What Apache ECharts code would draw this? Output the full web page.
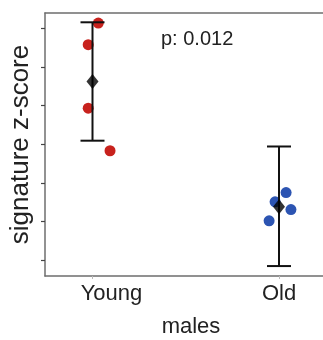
<!DOCTYPE html>
<html>
<head>
<meta charset="utf-8">
<script src="https://cdn.jsdelivr.net/npm/echarts@6/dist/echarts.min.js"></script>
<style>html,body{margin:0;padding:0;background:#fff}#c{width:323px;height:340px}</style>
</head>
<body>
<div id="c"></div>
<script>
// Groups (x positions 1 and 2 on the axis)
var categories = ['Young', 'Old'];
var groupPos = [1, 2];
// Individual points: [x-jittered position, signature z-score (axis units)]
var youngPoints = [[1.031, 6.13], [0.977, 5.57], [0.977, 3.93], [1.094, 2.83]];
var oldPoints = [[2.038, 1.75], [1.979, 1.51], [2.064, 1.31], [1.947, 1.02]];
// Mean and error bar (low, high)
var means = [4.62, 1.38];
var errLow = [3.09, -0.15];
var errHigh = [6.15, 2.94];
var yTicks = [0, 1, 2, 3, 4, 5, 6];
var pText = 'p: 0.012';

var chart = echarts.init(document.getElementById('c'), null, {renderer: 'canvas'});
var font = 'Liberation Sans, Arial, sans-serif';
var axisGray = '#6e6e6e';

var errData = groupPos.map(function (x, i) { return [x, errLow[i], errHigh[i]]; });
var meanData = groupPos.map(function (x, i) { return [x, means[i]]; });

chart.setOption({
  animation: false,
  backgroundColor: '#fff',
  grid: {left: 45, top: 13, right: -14, bottom: 64, containLabel: false, outerBoundsMode: 'none'},
  xAxis: [{
    type: 'value', min: 0.7453, max: 2.311,
    name: 'males', nameLocation: 'middle', nameGap: 40,
    nameTextStyle: {fontSize: 22, color: '#222', fontFamily: font},
    splitLine: {show: false},
    axisLine: {show: true, onZero: false, lineStyle: {color: axisGray, width: 1.5}},
    axisTick: {show: true, length: 3, customValues: groupPos, lineStyle: {color: '#bbb'}},
    axisLabel: {
      show: true, margin: 7, customValues: groupPos, fontSize: 22, color: '#222', fontFamily: font,
      formatter: function (v) { var i = groupPos.indexOf(v); var t = categories[i] || ''; return i === 0 ? '{y|' + t + '}' : t; },
      rich: {y: {fontSize: 22, color: '#222', fontFamily: font, padding: [0, 0, 0, 38]}}
    }
  }, {
    type: 'value', position: 'top', min: 0.7453, max: 2.311,
    splitLine: {show: false},
    axisLine: {show: true, onZero: false, lineStyle: {color: axisGray, width: 1.5}},
    axisTick: {show: false}, axisLabel: {show: false}
  }],
  yAxis: {
    type: 'value', min: -0.407, max: 6.39,
    name: 'signature z-score', nameLocation: 'middle', nameGap: 11,
    nameTextStyle: {fontSize: 26, color: '#222', fontFamily: font},
    splitLine: {show: false},
    axisLine: {show: true, onZero: false, lineStyle: {color: axisGray, width: 1.5}},
    axisTick: {show: true, length: 4, customValues: yTicks, lineStyle: {color: '#444', width: 1.2}},
    axisLabel: {show: false}
  },
  graphic: [{
    type: 'text', left: 161, top: 29,
    style: {text: pText, fontSize: 20, fill: '#222', fontFamily: font}
  }],
  series: [{
    type: 'scatter', data: youngPoints, symbolSize: 11,
    itemStyle: {color: '#c8221d', opacity: 1}, z: 2
  }, {
    type: 'scatter', data: oldPoints, symbolSize: 11,
    itemStyle: {color: '#2c54b2', opacity: 1}, z: 2
  }, {
    type: 'custom', data: errData, z: 3,
    renderItem: function (params, api) {
      var x = api.value(0);
      var lo = api.coord([x, api.value(1)]);
      var hi = api.coord([x, api.value(2)]);
      var hw = 12;
      var st = {stroke: '#111', lineWidth: 2};
      return {type: 'group', children: [
        {type: 'line', shape: {x1: lo[0], y1: lo[1], x2: hi[0], y2: hi[1]}, style: st},
        {type: 'line', shape: {x1: lo[0] - hw, y1: lo[1], x2: lo[0] + hw, y2: lo[1]}, style: st},
        {type: 'line', shape: {x1: hi[0] - hw, y1: hi[1], x2: hi[0] + hw, y2: hi[1]}, style: st}
      ]};
    }
  }, {
    type: 'scatter', data: meanData, symbol: 'diamond', symbolSize: [12, 15],
    itemStyle: {color: '#000'}, z: 4
  }]
});
</script>
</body>
</html>
